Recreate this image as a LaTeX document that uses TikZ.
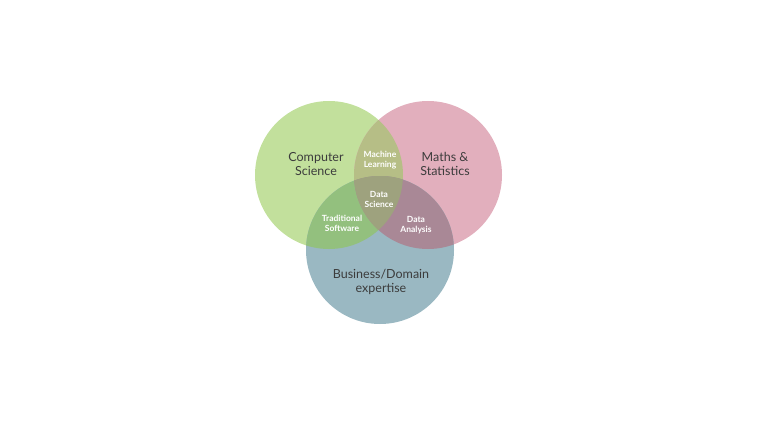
\documentclass[tikz,border=0pt]{standalone}
\usepackage{fontspec}
\setmainfont{Lato}
\usetikzlibrary{positioning}
\definecolor{csgreen}{HTML}{C2E09C}
\definecolor{mspink}{HTML}{E2AFBD}
\definecolor{bdblue}{HTML}{9AB8C2}
\definecolor{mlolive}{HTML}{B6BE86}
\definecolor{tsgreen}{HTML}{93C07E}
\definecolor{damauve}{HTML}{A98896}
\definecolor{dsgrey}{HTML}{9EA27E}
\definecolor{labelgrey}{HTML}{3C3C3C}
\tikzset{
    big/.style={text=labelgrey, align=center, font=\fontsize{12.5}{14}\selectfont},
    small/.style={text=white, align=center, font=\bfseries\fontsize{8.5}{10}\selectfont}
}
\begin{document}
\begin{tikzpicture}[x=1pt,y=-1pt]
\useasboundingbox (0,0) rectangle (757,425);
\def\rr{74}
\coordinate (cs) at (329,175);
\coordinate (ms) at (428,175);
\coordinate (bd) at (380,250);

\fill[csgreen] (cs) circle (\rr);
\fill[mspink] (ms) circle (\rr);
\fill[bdblue] (bd) circle (\rr);

% pairwise overlaps
\begin{scope}
  \clip (cs) circle (\rr);
  \fill[mlolive] (ms) circle (\rr);
  \fill[tsgreen] (bd) circle (\rr);
\end{scope}
\begin{scope}
  \clip (ms) circle (\rr);
  \fill[damauve] (bd) circle (\rr);
\end{scope}
% centre
\begin{scope}
  \clip (cs) circle (\rr);
  \clip (ms) circle (\rr);
  \fill[dsgrey] (bd) circle (\rr);
\end{scope}

\node[big] (csl) at (316,164) {Computer\\Science};
\node[big] (msl) at (445,164) {Maths \&\\Statistics};
\node[big] (bdl) at (381,282) {Business/Domain\\expertise};
\node[small] (mll) at (380,160) {Machine\\Learning};
\node[small] (dsl) at (379,199) {Data\\Science};
\node[small] (tsl) at (342,223) {Traditional\\Software};
\node[small] (dal) at (416,225) {Data\\Analysis};
\end{tikzpicture}
\end{document}
